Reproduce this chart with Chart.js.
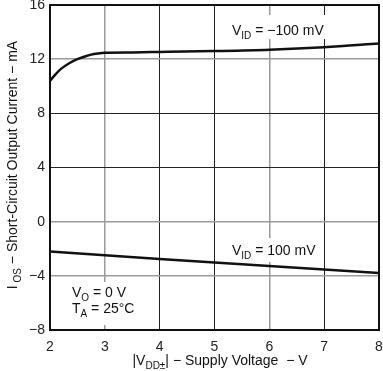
<!DOCTYPE html>
<html><head><meta charset="utf-8">
<script src="https://cdn.jsdelivr.net/npm/chart.js@4"></script>
<style>html,body{margin:0;padding:0;background:#fff}#w{width:383px;height:371px}</style>
</head><body><div id="w"><canvas id="c"></canvas></div>
<script>
const negSupply = [2, 2.1, 2.2, 2.35, 2.5, 2.65, 2.8, 3, 3.5, 4, 5, 6, 7, 8];
const negCurrent = [10.4, 10.88, 11.28, 11.7, 12.0, 12.22, 12.38, 12.48, 12.5, 12.53, 12.6, 12.7, 12.88, 13.15];
const posSupply = [2, 4, 6, 8];
const posCurrent = [-2.2, -2.75, -3.27, -3.8];
const xTicks = [2, 3, 4, 5, 6, 7, 8];
const yTicks = [-8, -4, 0, 4, 8, 12, 16];

const FONT = '"Liberation Sans", Arial, sans-serif';

function rich(ctx, x, y, segs, size) {
  let cx = x;
  for (const [t, sub] of segs) {
    ctx.font = (sub ? size - 4 : size) + 'px ' + FONT;
    ctx.fillText(t, cx, sub ? y + 4 : y);
    cx += ctx.measureText(t).width;
  }
  return cx - x;
}
function richWidth(ctx, segs, size) {
  let w = 0;
  for (const [t, sub] of segs) { ctx.font = (sub ? size - 4 : size) + 'px ' + FONT; w += ctx.measureText(t).width; }
  return w;
}

const deco = {
  id: 'deco',
  beforeDatasetsDraw(chart) {
    const ctx = chart.ctx;
    ctx.save();
    ctx.fillStyle = '#fff';
    ctx.fillRect(228, 15, 118, 24);
    ctx.fillRect(228, 238, 92, 24);
    ctx.fillRect(66, 282, 70, 43);
    ctx.fillStyle = '#111';
    ctx.textBaseline = 'alphabetic';
    ctx.textAlign = 'left';
    rich(ctx, 232, 35, [['V'], ['ID', 1], [' = \u2212100 mV']], 14);
    rich(ctx, 232, 255, [['V'], ['ID', 1], [' = 100 mV']], 14);
    rich(ctx, 72, 297, [['V'], ['O', 1], [' = 0 V']], 14);
    rich(ctx, 72, 313, [['T'], ['A', 1], [' = 25\u00B0C']], 14);
    ctx.restore();
  },
  afterDraw(chart) {
    const ctx = chart.ctx, a = chart.chartArea;
    ctx.save();
    ctx.strokeStyle = '#111';
    ctx.lineWidth = 2;
    ctx.strokeRect(a.left, a.top, a.right - a.left, a.bottom - a.top);
    ctx.fillStyle = '#111';
    ctx.textAlign = 'left';
    ctx.textBaseline = 'alphabetic';
    const xs = [['|V'], ['DD\u00B1', 1], ['| \u2212 Supply Voltage  \u2212 V']];
    const xw = richWidth(ctx, xs, 14);
    rich(ctx, 220 - xw / 2, 365, xs, 14);
    const ys = [['I'], [' OS', 1], [' \u2212 Short-Circuit Output Current \u2212 mA']];
    const yw = richWidth(ctx, ys, 14);
    ctx.translate(17, 165);
    ctx.rotate(-Math.PI / 2);
    rich(ctx, -yw / 2, 0, ys, 14);
    ctx.restore();
  }
};

const greyX = [3, 6], greyY = [12, 0, -4];
new Chart(document.getElementById('c'), {
  type: 'line',
  data: {
    datasets: [
      { data: negSupply.map((v, i) => ({ x: v, y: negCurrent[i] })), borderColor: '#111', borderWidth: 2.5, pointRadius: 0, cubicInterpolationMode: 'monotone' },
      { data: posSupply.map((v, i) => ({ x: v, y: posCurrent[i] })), borderColor: '#111', borderWidth: 2.5, pointRadius: 0 }
    ]
  },
  options: {
    responsive: true, maintainAspectRatio: false, animation: false,
    layout: { padding: { top: 5, right: 4, left: 0, bottom: 0 } },
    plugins: { legend: { display: false }, tooltip: { enabled: false } },
    scales: {
      x: {
        type: 'linear', min: 2, max: 8,
        afterBuildTicks: s => { s.ticks = xTicks.map(v => ({ value: v })); },
        afterFit: s => { s.height = 41; s.paddingRight = 0; s.paddingLeft = 0; },
        grid: { drawTicks: false, color: c => greyX.includes(c.tick.value) ? '#9a9a9a' : '#222', lineWidth: c => greyX.includes(c.tick.value) ? 1.5 : 1 },
        border: { display: false },
        ticks: { padding: 9, color: '#222', font: { family: FONT, size: 14 }, maxRotation: 0 }
      },
      y: {
        min: -8, max: 16,
        afterBuildTicks: s => { s.ticks = yTicks.map(v => ({ value: v })); },
        afterFit: s => { s.width = 50; s.paddingTop = 0; s.paddingBottom = 0; },
        grid: { drawTicks: false, color: c => greyY.includes(c.tick.value) ? '#9a9a9a' : '#222', lineWidth: c => greyY.includes(c.tick.value) ? 1.5 : 1 },
        border: { display: false },
        ticks: { padding: 5, color: '#222', font: { family: FONT, size: 14 }, callback: v => String(v).replace('-', '\u2212') }
      }
    }
  },
  plugins: [deco]
});
</script></body></html>
